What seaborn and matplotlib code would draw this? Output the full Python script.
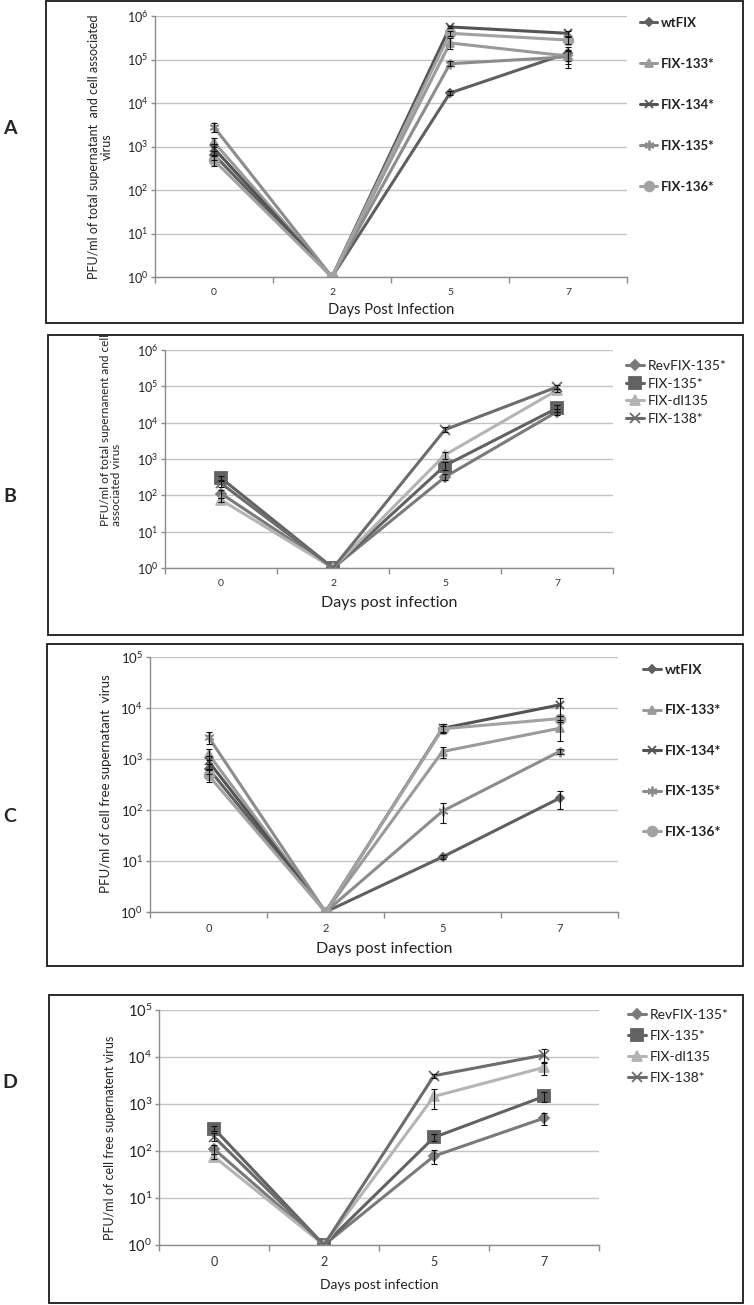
import numpy as np
import pandas as pd
import seaborn as sns
import matplotlib.pyplot as plt
from matplotlib.patches import Rectangle
from matplotlib.ticker import FixedLocator, NullLocator, LogLocator

W, H = 754, 1305

days = ["0", "2", "5", "7"]

# panels A and C: wild type and mutants 133-136
names_1 = ["wtFIX", "FIX-133*", "FIX-134*", "FIX-135*", "FIX-136*"]
colors_1 = ["#606060", "#9a9a9a", "#545454", "#8c8c8c", "#a2a2a2"]
markers_1 = ["D", "^", "x", (6, 2, 0), "o"]
sizes_1 = [4, 6, 6, 7, 7]

# A: total supernatant and cell associated virus (PFU/ml)
a_vals = [
    [650, 1, 1.7e4, 1.4e5],
    [1250, 1, 2.4e5, 1.2e5],
    [900, 1, 5.6e5, 4.0e5],
    [2800, 1, 8.0e4, 1.15e5],
    [480, 1, 4.0e5, 2.8e5],
]
a_errs = [
    [150, 0, 2000, 5e4],
    [300, 0, 7e4, 4e4],
    [250, 0, 4e4, 6e4],
    [600, 0, 1e4, 5e4],
    [120, 0, 5e4, 5e4],
]

# C: cell free supernatant virus (PFU/ml)
c_vals = [
    [650, 1, 12, 170],
    [1250, 1, 1400, 4000],
    [900, 1, 4000, 1.15e4],
    [2700, 1, 95, 1400],
    [480, 1, 3900, 6200],
]
c_errs = [
    [150, 0, 1, 65],
    [300, 0, 350, 1700],
    [250, 0, 800, 4500],
    [700, 0, 40, 150],
    [120, 0, 500, 800],
]

# panels B and D: revertant, 135, deletion and 138
names_2 = ["RevFIX-135*", "FIX-135*", "FIX-dl135", "FIX-138*"]
colors_2 = ["#7a7a7a", "#626262", "#b4b4b4", "#6c6c6c"]
markers_2 = ["D", "s", "^", "x"]
sizes_2 = [5, 9, 7, 7]

b_vals = [
    [112, 1, 320, 2.0e4],
    [300, 1, 660, 2.5e4],
    [75, 1, 1300, 7.8e4],
    [215, 1, 6400, 9.6e4],
]
b_errs = [
    [25, 0, 60, 4000],
    [40, 0, 150, 5000],
    [10, 0, 300, 8000],
    [40, 0, 1000, 1e4],
]

d_vals = [
    [110, 1, 78, 500],
    [300, 1, 195, 1450],
    [76, 1, 1450, 6000],
    [200, 1, 4000, 1.1e4],
]
d_errs = [
    [25, 0, 25, 150],
    [40, 0, 30, 350],
    [10, 0, 650, 1800],
    [40, 0, 400, 3500],
]

sns.set_style("white")
plt.rcParams["font.family"] = ["Lato", "DejaVu Sans"]
plt.rcParams["mathtext.default"] = "regular"

fig = plt.figure(figsize=(W / 100, H / 100), dpi=100)


def fx(x):
    return x / W


def fy(y):
    return 1 - y / H


def panel(box, rect, names, vals, errs, colors, markers, sizes, ytop,
          ylabel, ylab_xy, ylab_size, ylab_align, xlabel, xlab_y, xlab_size,
          tick_size, leg_xy, leg_size, leg_bold, leg_spacing, letter, letter_y):
    # outer frame
    bl, bt, br, bb = box
    fig.add_artist(Rectangle((fx(bl), fy(bb)), (br - bl) / W, (bb - bt) / H,
                             transform=fig.transFigure, fill=False,
                             ec="#1a1a1a", lw=1.3))
    l, t, r, b = rect
    ax = fig.add_axes([fx(l), fy(b), (r - l) / W, (b - t) / H])

    rows = []
    for name, v, e in zip(names, vals, errs):
        for d, vv, ee in zip(days, v, e):
            rows.append((name, d, vv, ee))
    df = pd.DataFrame(rows, columns=["series", "day", "pfu", "sd"])

    for i, name in enumerate(names):
        sub = df[df.series == name]
        sns.lineplot(data=sub, x="day", y="pfu", color=colors[i],
                     marker=markers[i], markersize=sizes[i], lw=2.2,
                     mec=colors[i], mew=1.3, label=name, sort=False, ax=ax)
    for i, name in enumerate(names):
        sub = df[(df.series == name) & (df.sd > 0)]
        ax.errorbar(sub.day, sub.pfu, yerr=sub.sd, fmt="none", ecolor="#111111",
                    elinewidth=0.8, capsize=2.5, capthick=0.8, zorder=5)

    ax.set_yscale("log")
    ax.set_ylim(1, ytop)
    ax.set_xlim(-0.5, 3.5)
    ax.yaxis.set_major_locator(LogLocator(base=10, numticks=10))
    ax.yaxis.set_minor_locator(NullLocator())
    ax.yaxis.grid(True, color="#c4c4c4", lw=1)
    ax.xaxis.set_minor_locator(FixedLocator([-0.5, 0.5, 1.5, 2.5, 3.5]))
    ax.tick_params(axis="x", which="major", length=0, pad=8,
                   labelsize=tick_size, labelcolor="#333333")
    ax.tick_params(axis="x", which="minor", length=4, width=1,
                   color="#8c8c8c", bottom=True)
    ax.tick_params(axis="y", which="major", length=3, width=1, left=True,
                   color="#8c8c8c", labelsize=tick_size + 1.5,
                   labelcolor="#222222", pad=2)
    for s in ["top", "right"]:
        ax.spines[s].set_visible(False)
    for s in ["left", "bottom"]:
        ax.spines[s].set_color("#8c8c8c")
        ax.spines[s].set_linewidth(1)
    ax.set_xlabel("")
    ax.set_ylabel("")

    fig.text(fx(ylab_xy[0]), fy(ylab_xy[1]), ylabel, rotation=90,
             ha="center", va="center", multialignment=ylab_align,
             fontsize=ylab_size, color="#222222", linespacing=1.1)
    fig.text(fx((l + r) / 2), fy(xlab_y), xlabel, ha="center", va="center",
             fontsize=xlab_size, color="#222222")
    fig.text(fx(10), fy(letter_y), letter, ha="center", va="center",
             fontsize=14, fontweight="bold")

    handles, labels = ax.get_legend_handles_labels()
    leg = ax.legend(handles, labels, loc="upper left",
                    bbox_to_anchor=(fx(leg_xy[0]), fy(leg_xy[1])),
                    bbox_transform=fig.transFigure, frameon=False,
                    borderpad=0, borderaxespad=0, handlelength=1.3,
                    handletextpad=0.3, labelspacing=leg_spacing,
                    prop={"size": leg_size,
                          "weight": "bold" if leg_bold else "normal"})
    for txt in leg.get_texts():
        txt.set_color("#222222")
    return ax


panel((46, 1, 743, 323), (155, 16, 627, 277), names_1, a_vals, a_errs,
      colors_1, markers_1, sizes_1, 1e6,
      "PFU/ml of total supernatant  and cell associated\nvirus",
      (100, 147), 9, "center", "Days Post Infection", 310, 10.5,
      7.5, (640, 17), 9.5, True, 2.2, "A", 128)

panel((48, 335, 743, 635), (165, 350, 613, 568), names_2, b_vals, b_errs,
      colors_2, markers_2, sizes_2, 1e6,
      "PFU/ml of total supernanent and cell\nassociated virus",
      (111, 430), 8.5, "left", "Days post infection", 603, 11.5,
      7.5, (626, 360), 10, False, 0.4, "B", 497)

panel((47, 644, 743, 966), (150, 657, 618, 912), names_1, c_vals, c_errs,
      colors_1, markers_1, sizes_1, 1e5,
      "PFU/ml of cell free supernatant  virus",
      (106, 784), 9.5, "center", "Days post infection", 949, 11.5,
      8, (643, 664), 10, True, 2.05, "C", 817)

panel((49, 995, 743, 1303), (159, 1010, 599, 1245), names_2, d_vals, d_errs,
      colors_2, markers_2, sizes_2, 1e5,
      "PFU/ml of cell free supernatent virus",
      (110, 1138), 9, "center", "Days post infection", 1285, 10,
      9, (628, 1009), 10, False, 0.65, "D", 1082)

fig.savefig("out.png", dpi=100, facecolor="white")
